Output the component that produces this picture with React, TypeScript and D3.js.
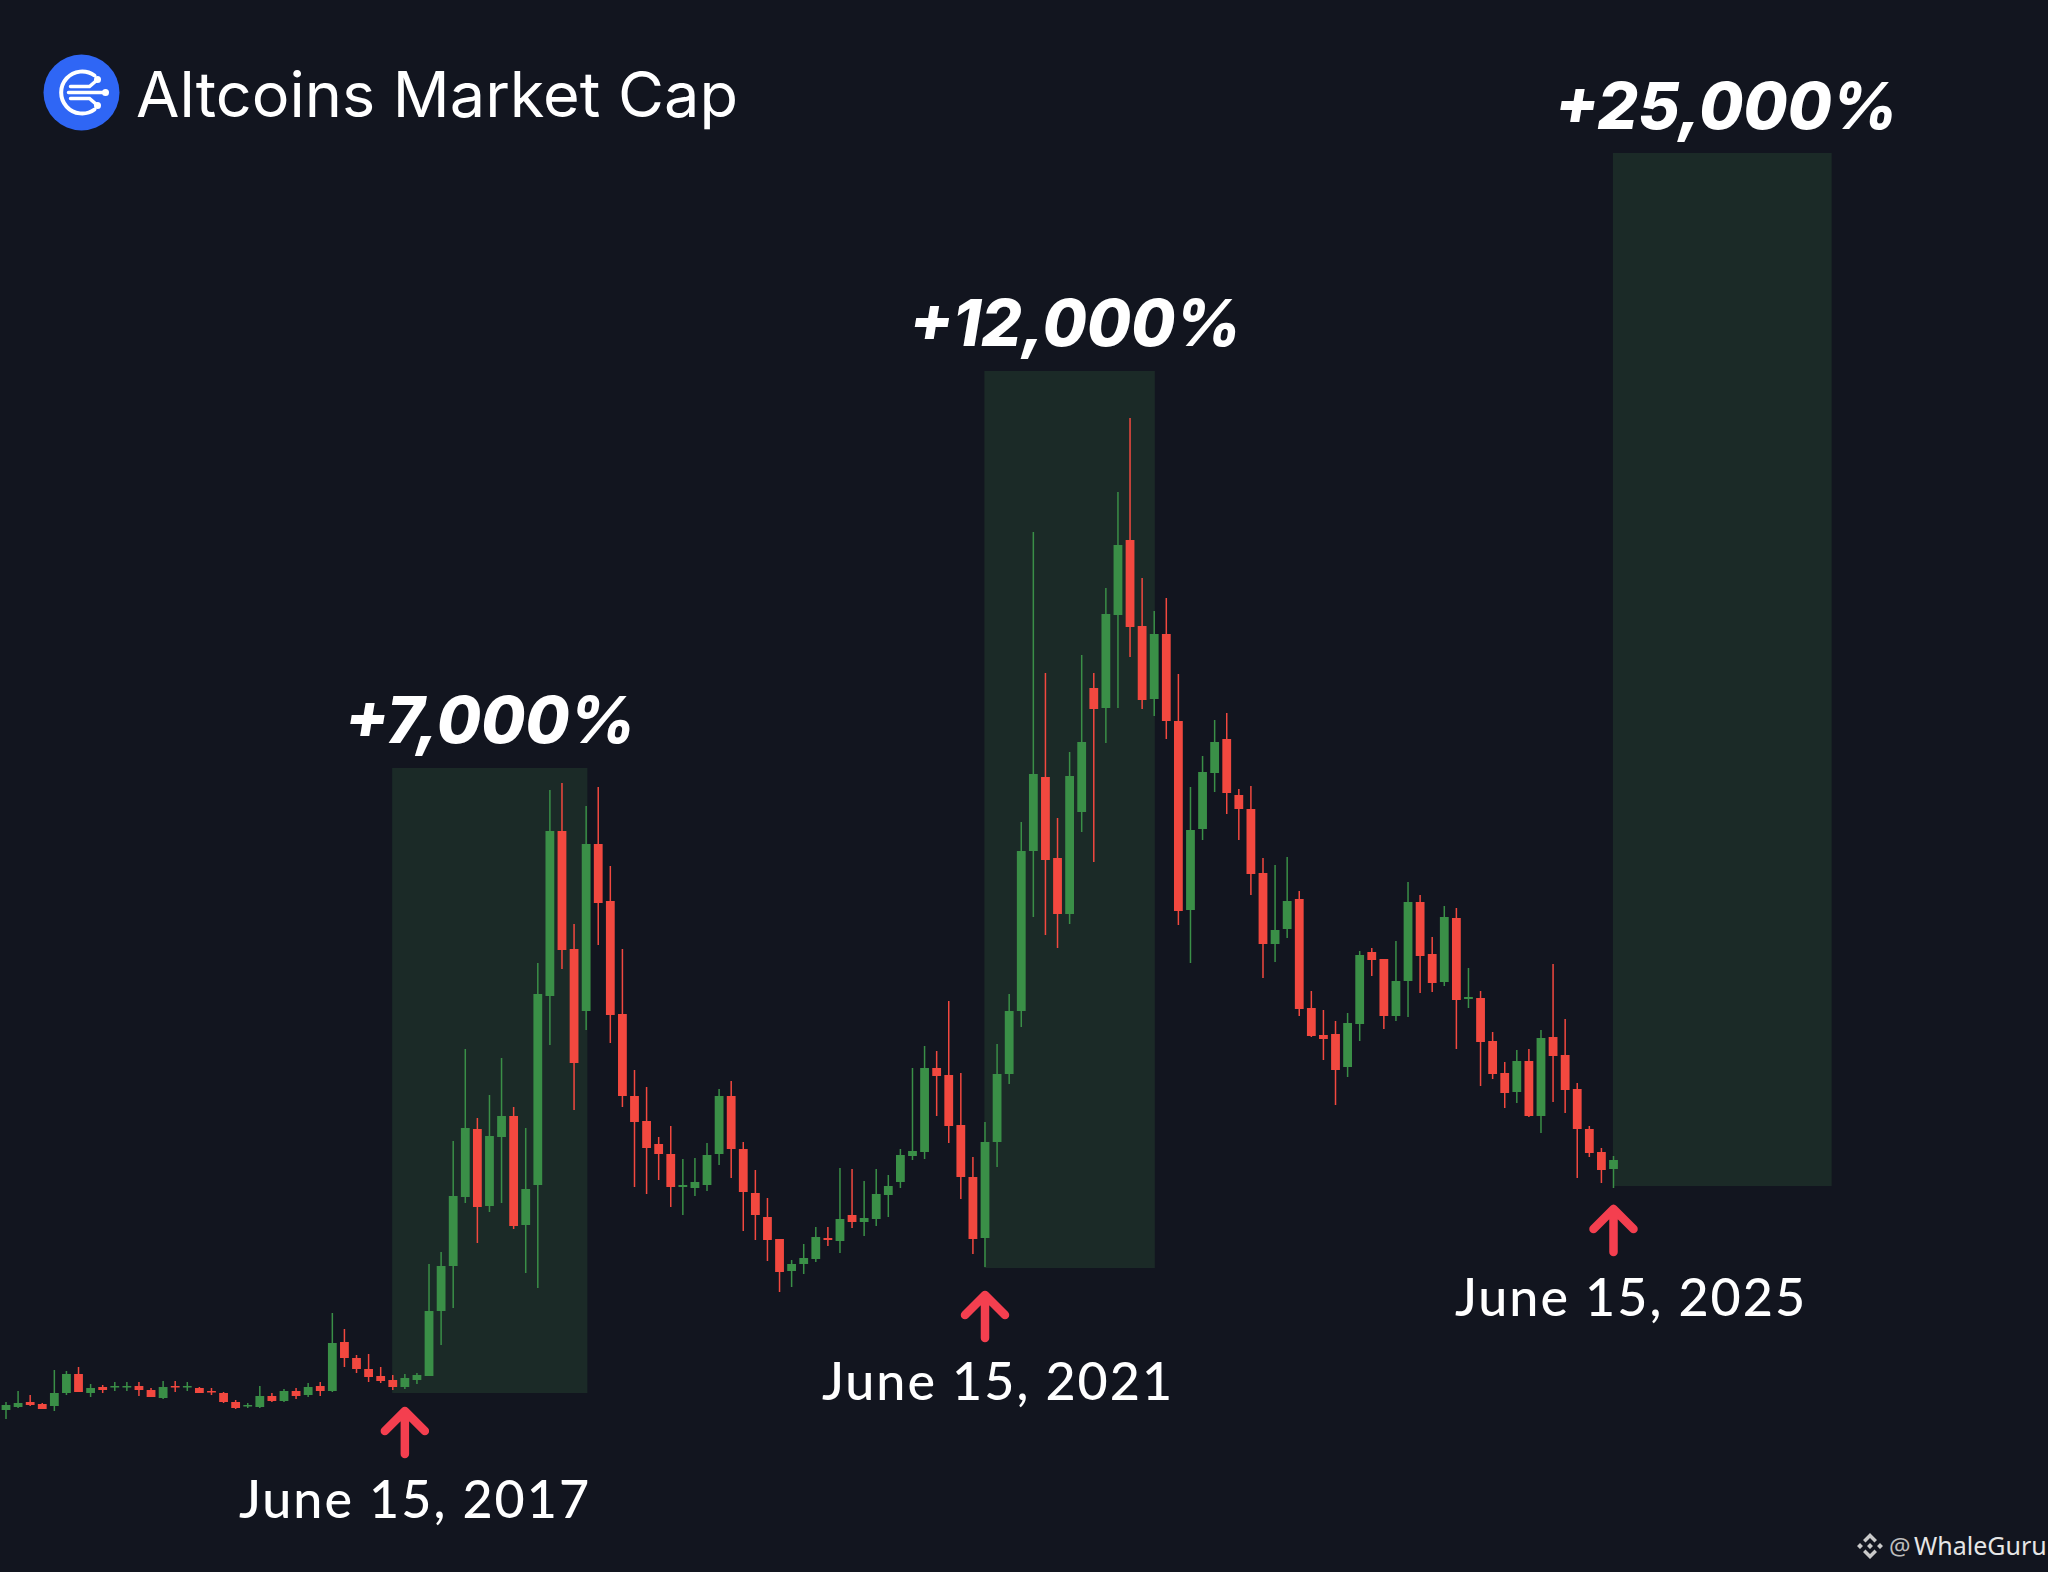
import { useEffect, useRef } from "react";
import * as d3 from "d3";

// candle values, oldest first (arbitrary log-like units)
const opens = [162,165,170,168,166,179,198,179,185,185,185,186,182,174,186,185,184,181,179,170,166,165,176,171,181,177,186,181,230,214,203,196,192,185,192,196,261,306,375,443,366,435,456,347,387,576,741,623,561,728,671,558,476,451,428,418,385,384,387,418,476,423,379,355,333,301,308,313,334,331,357,350,353,377,390,416,420,504,497,447,395,334,430,498,561,721,795,714,658,760,884,864,957,1032,946,873,938,851,662,743,799,833,777,763,699,628,643,673,564,537,538,505,548,620,613,556,591,670,618,590,654,573,574,531,499,480,511,456,535,517,483,443,420,403];
const highs = [170,181,177,169,202,201,205,188,187,190,190,190,184,191,191,190,185,184,180,172,169,186,179,183,184,189,190,259,243,217,218,205,197,198,199,308,320,431,523,454,477,514,465,444,609,782,789,648,766,785,706,623,502,485,435,446,413,414,429,483,491,430,402,374,333,312,328,345,345,404,403,391,403,397,423,504,526,521,571,499,415,450,528,578,750,1040,899,754,820,917,899,984,1080,1154,994,961,974,898,785,816,852,859,783,786,714,707,715,681,581,562,551,559,621,624,613,631,690,677,635,666,664,604,581,540,510,522,523,542,608,553,489,446,424,416];
const lows = [153,164,166,163,161,177,180,175,179,181,181,176,175,173,180,181,179,177,169,163,164,164,170,170,173,175,176,180,205,199,190,189,182,183,188,196,227,264,369,329,360,369,343,299,284,527,603,462,542,627,529,465,385,378,392,365,357,376,381,407,394,341,332,311,280,285,298,310,326,319,344,336,346,355,384,412,413,456,429,373,318,305,405,488,545,655,637,624,648,740,710,829,864,915,863,856,833,647,609,732,780,758,732,677,594,610,634,556,535,512,467,495,531,596,543,551,555,579,580,586,523,564,486,493,464,469,455,439,470,459,394,415,389,384];
const closes = [167,169,167,163,179,198,180,184,182,186,186,182,175,185,185,186,179,180,170,164,167,176,171,181,176,185,181,229,214,203,195,191,185,194,197,261,306,376,444,365,436,456,346,383,578,741,622,509,728,669,557,476,450,424,418,385,387,390,417,476,423,380,357,332,300,308,314,335,332,353,350,354,378,386,417,421,504,496,446,395,333,430,498,561,721,798,712,658,796,830,863,958,1027,945,872,938,851,661,742,800,830,779,763,698,628,642,671,563,536,533,502,549,617,612,556,591,670,616,589,655,572,575,530,498,479,511,456,534,516,482,443,419,402,412];

// the highlighted rallies: candle index range and value range
const rallyStart = [31.95, 80.95, 132.95];
const rallyEnd = [48.1, 95.05, 151.05];
const rallyLow = [179, 304, 386];
const rallyHigh = [804, 1201, 1419];
const rallyGains = ["+7,000%", "+12,000%", "+25,000%"];

// the dated bottoms the arrows point at
const bottomIndex = [33, 81, 133];
const bottomDates = ["June 15, 2017", "June 15, 2021", "June 15, 2025"];

const chartTitle = "Altcoins Market Cap";

const WIDTH = 2048;
const HEIGHT = 1572;

const BG = "#12151f";
const RALLY = "#1b2a27";
const UP = "#3a8f47";
const DOWN = "#f2483f";
const ARROW = "#f43f4f";

const App = () => {
  const chartRef = useRef<SVGSVGElement>(null);

  useEffect(() => {
    document.body.style.margin = "0";
    document.body.style.background = BG;

    const svg = d3.select(chartRef.current);
    svg.selectAll("*").remove();

    const xScale = d3.scaleLinear().domain([0, 133]).range([6, 1613.5]);
    const yScale = d3.scaleLinear().domain([0, HEIGHT]).range([HEIGHT, 0]);

    svg
      .append("rect")
      .attr("width", WIDTH)
      .attr("height", HEIGHT)
      .attr("fill", BG);

    // rally boxes
    svg
      .selectAll("rect.rally")
      .data(rallyGains)
      .enter()
      .append("rect")
      .attr("class", "rally")
      .attr("x", (_, i) => xScale(rallyStart[i]))
      .attr("y", (_, i) => yScale(rallyHigh[i]))
      .attr("width", (_, i) => xScale(rallyEnd[i]) - xScale(rallyStart[i]))
      .attr("height", (_, i) => yScale(rallyLow[i]) - yScale(rallyHigh[i]))
      .attr("fill", RALLY);

    // candles
    const candles = opens.map((o, i) => ({
      i,
      o,
      h: highs[i],
      l: lows[i],
      c: closes[i],
    }));
    const color = (d: { o: number; c: number }) => (d.c >= d.o ? UP : DOWN);

    svg
      .selectAll("line.wick")
      .data(candles)
      .enter()
      .append("line")
      .attr("class", "wick")
      .attr("x1", (d) => xScale(d.i))
      .attr("x2", (d) => xScale(d.i))
      .attr("y1", (d) => yScale(d.h))
      .attr("y2", (d) => yScale(d.l))
      .attr("stroke", color)
      .attr("stroke-width", 1.5);

    svg
      .selectAll("rect.body")
      .data(candles)
      .enter()
      .append("rect")
      .attr("class", "body")
      .attr("x", (d) => xScale(d.i) - 4.4)
      .attr("y", (d) => yScale(Math.max(d.o, d.c)))
      .attr("width", 8.8)
      .attr("height", (d) => Math.max(1.5, Math.abs(d.o - d.c)))
      .attr("fill", color);

    // rally labels
    const gainCenter = [490, 1075, 1726];
    const gainBaseline = [743, 346, 129];
    svg
      .selectAll("text.gain")
      .data(rallyGains)
      .enter()
      .append("text")
      .attr("class", "gain")
      .attr("x", (_, i) => gainCenter[i])
      .attr("y", (_, i) => gainBaseline[i])
      .attr("text-anchor", "middle")
      .attr("font-family", "Inter")
      .attr("font-style", "italic")
      .attr("font-weight", 800)
      .attr("font-size", 64)
      .attr("fill", "#ffffff")
      .text((d) => d);

    // arrows and dates
    const arrowTip = [1405, 1289, 1203];
    const dateCenter = [415, 998, 1631];
    const dateBaseline = [1518, 1400, 1316];
    bottomIndex.forEach((idx, i) => {
      const x = xScale(idx);
      const tip = arrowTip[i] + 6;
      const path = d3.path();
      path.moveTo(x, tip);
      path.lineTo(x, tip + 43);
      path.moveTo(x - 20, tip + 20);
      path.lineTo(x, tip);
      path.lineTo(x + 20, tip + 20);
      svg
        .append("path")
        .attr("d", path.toString())
        .attr("fill", "none")
        .attr("stroke", ARROW)
        .attr("stroke-width", 8.5)
        .attr("stroke-linecap", "round")
        .attr("stroke-linejoin", "round");

      svg
        .append("text")
        .attr("x", dateCenter[i])
        .attr("y", dateBaseline[i])
        .attr("text-anchor", "middle")
        .attr("font-family", "Lato")
        .attr("font-weight", 500)
        .attr("font-size", 52)
        .attr("letter-spacing", 2)
        .attr("fill", "#ffffff")
        .text(bottomDates[i]);
    });

    // title with logo
    const logo = svg.append("g").attr("transform", "translate(81.5,92.5)");
    logo.append("circle").attr("r", 38).attr("fill", "#2f66f5");
    logo
      .append("path")
      .attr("d", "M13,-17 A21,21 0 1 0 13,17")
      .attr("fill", "none")
      .attr("stroke", "#ffffff")
      .attr("stroke-width", 4)
      .attr("stroke-linecap", "round");
    logo
      .append("path")
      .attr("d", "M-11,-6 H8 L15,-12 M-13,0 H23 M-11,6 H8 L15,12")
      .attr("fill", "none")
      .attr("stroke", "#ffffff")
      .attr("stroke-width", 3.5)
      .attr("stroke-linecap", "round");
    [
      [16, -13],
      [24, 0],
      [16, 13],
    ].forEach(([cx, cy]) => {
      logo
        .append("circle")
        .attr("cx", cx)
        .attr("cy", cy)
        .attr("r", 3.5)
        .attr("fill", "#ffffff");
    });

    svg
      .append("text")
      .attr("x", 136)
      .attr("y", 117)
      .attr("font-family", "Inter")
      .attr("font-size", 63)
      .attr("fill", "#ffffff")
      .text(chartTitle);

    // watermark
    const mark = svg.append("g").attr("transform", "translate(1870,1546)");
    mark
      .append("path")
      .attr(
        "d",
        "M0,-13 L7,-6 L4.5,-3.5 L0,-8 L-4.5,-3.5 L-7,-6 Z M0,13 L7,6 L4.5,3.5 L0,8 L-4.5,3.5 L-7,6 Z M-13,0 L-10,-3 L-7,0 L-10,3 Z M13,0 L10,-3 L7,0 L10,3 Z M0,-3 L3,0 L0,3 L-3,0 Z"
      )
      .attr("fill", "#c9c9c9");
    svg
      .append("text")
      .attr("x", 1889)
      .attr("y", 1555)
      .attr("font-family", "Noto Sans")
      .attr("font-size", 24)
      .attr("fill", "#bdbdbd")
      .text("@");
    svg
      .append("text")
      .attr("x", 1914)
      .attr("y", 1555)
      .attr("font-family", "Noto Sans")
      .attr("font-size", 25)
      .attr("fill", "#e6e6e6")
      .text("WhaleGuru");
  }, []);

  return (
    <svg
      ref={chartRef}
      width={WIDTH}
      height={HEIGHT}
      style={{ display: "block" }}
    />
  );
};

export default App;
